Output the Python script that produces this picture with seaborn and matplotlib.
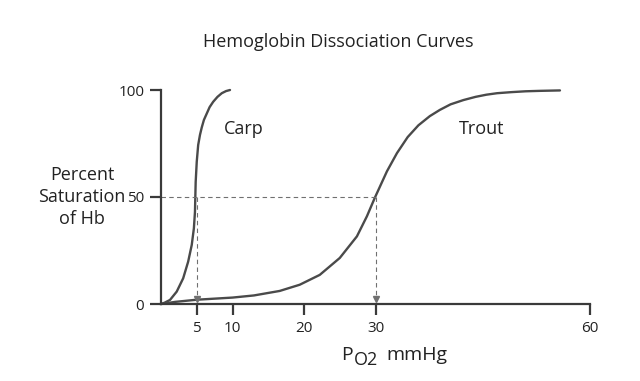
import numpy as np
import pandas as pd
import matplotlib
matplotlib.use("Agg")
import matplotlib.pyplot as plt
import seaborn as sns

# values (PO2 in mmHg, % saturation)
carp_po2 = [0, 0.5, 1.26, 2.2, 3.1, 3.8, 4.3, 4.6, 4.75, 4.8, 4.85, 5.0, 5.2, 5.45,
            5.7, 6.0, 6.4, 6.8, 7.3, 7.9, 8.5, 9.1, 9.65]
carp_sat = [0, 0.6, 1.9, 5.8, 12, 19.8, 27.6, 35.4, 43, 50, 57, 66.5, 74.3, 79,
            82.5, 86, 89, 92, 94.5, 96.8, 98.5, 99.5, 100]

trout_po2 = [0, 2, 5, 8, 10, 13, 16.6, 19.4, 22.2, 25, 27.4, 28.8, 29.9, 31.6, 33,
             34.5, 36, 37.6, 39, 40.5, 42.3, 44, 45.5, 47, 49, 51, 53, 55.8]
trout_sat = [0, 1.0, 2.0, 2.6, 3.0, 4.0, 6.1, 9, 13.6, 21.5, 31.6, 41, 49.6, 62, 70.5,
             78, 83.5, 87.8, 90.7, 93.3, 95.3, 96.8, 97.8, 98.5, 99, 99.4, 99.6, 99.8]

p50_po2 = [5, 30]          # half-saturation pressures
x_ticks = [5, 10, 20, 30, 60]
y_ticks = [0, 50, 100]

sns.set_style("white")
plt.rcParams['font.family'] = ['Open Sans', 'DejaVu Sans']

ink = "#3a3a3a"
txt = "#222222"
fig = plt.figure(figsize=(6.4, 3.81), dpi=100)
ax = fig.add_axes([161 / 640, 1 - 304 / 381, (590 - 161) / 640, (304 - 90) / 381])

carp = pd.DataFrame({"po2": carp_po2, "sat": carp_sat})
trout = pd.DataFrame({"po2": trout_po2, "sat": trout_sat})
for curve in (carp, trout):
    sns.lineplot(data=curve, x="po2", y="sat", ax=ax, sort=False, estimator=None,
                 color="#4a4a4a", lw=1.7, clip_on=False)

# dashed guide lines at 50 % saturation
dash = dict(color="#707070", lw=0.8, ls=(0, (4, 3)))
ax.plot([0, max(p50_po2)], [50, 50], **dash)
for p in p50_po2:
    ax.plot([p, p], [50, 2], **dash)
    ax.plot([p], [2.2], marker="v", ms=4, color="#707070", clip_on=False)

ax.set_xlim(0, 60)
ax.set_ylim(0, 100)
ax.set_xticks(x_ticks)
ax.set_yticks(y_ticks)
ax.tick_params(axis="both", direction="out", length=8, width=1.6, color=ink,
               labelsize=11, labelcolor=txt, pad=4, bottom=True, left=True)
for side in ["top", "right"]:
    ax.spines[side].set_visible(False)
for side in ["left", "bottom"]:
    ax.spines[side].set_color(ink)
    ax.spines[side].set_linewidth(1.6)
ax.set_xlabel("")
ax.set_ylabel("")

ax.text(11.6, 82, "Carp", fontsize=13, color=txt, ha="center", va="center")
ax.text(44.8, 82, "Trout", fontsize=13, color=txt, ha="center", va="center")

fig.text(338 / 640, 1 - 42 / 381, "Hemoglobin Dissociation Curves", fontsize=13,
         color=txt, ha="center", va="center")
fig.text(82 / 640, 1 - 197 / 381, "Percent\nSaturation\nof Hb", fontsize=13,
         color=txt, ha="center", va="center", linespacing=1.25)
fig.text(347 / 640, 1 - 355 / 381, "P", fontsize=14, color=txt, ha="center", va="center")
fig.text(366 / 640, 1 - 360 / 381, "O2", fontsize=13, color=txt, ha="center", va="center")
fig.text(417 / 640, 1 - 355 / 381, "mmHg", fontsize=14, color=txt, ha="center", va="center")

fig.savefig("out.png", dpi=100, facecolor="white")
